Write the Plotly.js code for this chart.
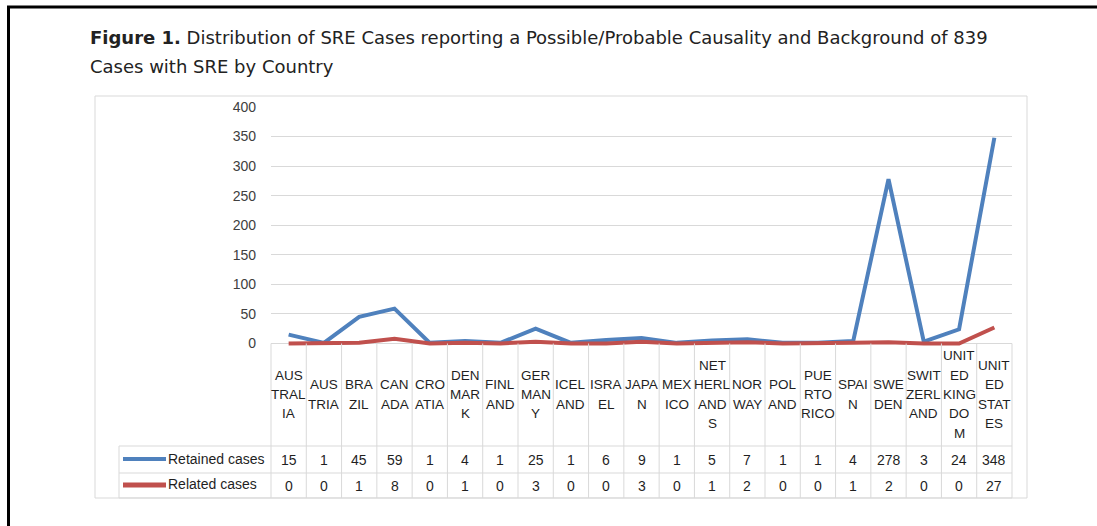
<!DOCTYPE html>
<html>
<head>
<meta charset="utf-8">
<script src="https://cdn.plot.ly/plotly-3.0.1.min.js"></script>
<style>
  html, body { margin: 0; padding: 0; background: #fff; }
  #chart { width: 1097px; height: 526px; }
</style>
</head>
<body>
<div id="chart"></div>
<script>
// ---- data ----
const countries = ["AUSTRALIA","AUSTRIA","BRAZIL","CANADA","CROATIA","DENMARK","FINLAND","GERMANY","ICELAND","ISRAEL","JAPAN","MEXICO","NETHERLANDS","NORWAY","POLAND","PUERTO RICO","SPAIN","SWEDEN","SWITZERLAND","UNITED KINGDOM","UNITED STATES"];
const headerLabels = [
  ["AUS","TRAL","IA"], ["AUS","TRIA"], ["BRA","ZIL"], ["CAN","ADA"], ["CRO","ATIA"],
  ["DEN","MAR","K"], ["FINL","AND"], ["GER","MAN","Y"], ["ICEL","AND"], ["ISRA","EL"],
  ["JAPA","N"], ["MEX","ICO"], ["NET","HERL","AND","S"], ["NOR","WAY"], ["POL","AND"],
  ["PUE","RTO","RICO"], ["SPAI","N"], ["SWE","DEN"], ["SWIT","ZERL","AND"],
  ["UNIT","ED","KING","DO","M"], ["UNIT","ED","STAT","ES"]
];
const retainedCases = [15,1,45,59,1,4,1,25,1,6,9,1,5,7,1,1,4,278,3,24,348];
const relatedCases  = [0,0,1,8,0,1,0,3,0,0,3,0,1,2,0,0,1,2,0,0,27];
const seriesNames = ["Retained cases", "Related cases"];
const seriesColors = ["#4F81BD", "#C0504D"];
const yTicks = [0,50,100,150,200,250,300,350,400];
const titleLine1 = "<b>Figure 1.</b> Distribution of SRE Cases reporting a Possible/Probable Causality and Background of 839";
const titleLine2 = "Cases with SRE by Country";

// ---- layout helpers (pixel -> paper) ----
const W = 1097, H = 526;
const M = {l: 271, r: 85, t: 107, b: 179};
const PW = W - M.l - M.r, PH = H - M.t - M.b;
const px = v => (v - M.l) / PW;
const py = v => (H - M.b - v) / PH;
const N = countries.length;
const gridC = "#d9d9d9";
const textC = "#1f1f1f";
const tFont = "Liberation Sans, Arial, sans-serif";

const traces = [
  {x: countries, y: retainedCases, name: seriesNames[0], type: "scatter", mode: "lines",
   line: {color: seriesColors[0], width: 4}, hoverinfo: "x+y"},
  {x: countries, y: relatedCases, name: seriesNames[1], type: "scatter", mode: "lines",
   line: {color: seriesColors[1], width: 4}, hoverinfo: "x+y"}
];

const shapes = [];
const annotations = [];
function hline(x0, x1, y, color, w) {
  shapes.push({type: "line", xref: "paper", yref: "paper", x0: px(x0), x1: px(x1), y0: py(y), y1: py(y), line: {color: color, width: w}});
}
function vline(x, y0, y1, color, w) {
  shapes.push({type: "line", xref: "paper", yref: "paper", x0: px(x), x1: px(x), y0: py(y0), y1: py(y1), line: {color: color, width: w}});
}
// page frame
hline(7, W, 7, "#000", 3);
vline(8.5, 6, H, "#000", 3);
// chart box
shapes.push({type: "rect", xref: "paper", yref: "paper", x0: px(95), x1: px(1027), y0: py(96), y1: py(498), line: {color: gridC, width: 1}});
// data table grid
const zeroPx = 343.5, headBot = 446, rowSep = 473, tabBot = 498, tabLeft = 119;
for (let i = 0; i <= N; i++) {
  shapes.push({type: "line", xref: "paper", yref: "paper", x0: i / N, x1: i / N, y0: py(zeroPx), y1: py(tabBot), line: {color: gridC, width: 1}});
}
hline(tabLeft, M.l + PW, headBot, gridC, 1);
hline(tabLeft, M.l + PW, rowSep, gridC, 1);
hline(tabLeft, M.l + PW, tabBot, gridC, 1);
vline(tabLeft, headBot, tabBot, gridC, 1);

// header labels
const headCenter = 394.5, lineGap = 19.4;
headerLabels.forEach((lines, i) => {
  lines.forEach((s, k) => {
    const yc = headCenter + (k - (lines.length - 1) / 2) * lineGap;
    annotations.push({xref: "x", yref: "paper", x: countries[i], y: py(yc), text: s, showarrow: false,
      xanchor: "center", yanchor: "middle", font: {family: tFont, size: 13.5, color: textC}});
  });
});
// value rows
const rowY = [459.5, 485.5];
[retainedCases, relatedCases].forEach((arr, r) => {
  arr.forEach((v, i) => {
    annotations.push({xref: "x", yref: "paper", x: countries[i], y: py(rowY[r]), text: String(v), showarrow: false,
      xanchor: "center", yanchor: "middle", font: {family: tFont, size: 14, color: textC}});
  });
  // legend key + name
  shapes.push({type: "line", xref: "paper", yref: "paper", x0: px(123), x1: px(166), y0: py(rowY[r] - 0.5), y1: py(rowY[r] - 0.5), line: {color: seriesColors[r], width: r === 0 ? 4 : 5}});
  annotations.push({xref: "paper", yref: "paper", x: px(166), y: py(rowY[r] - 1), text: seriesNames[r], showarrow: false,
    xanchor: "left", yanchor: "middle", font: {family: tFont, size: 14, color: textC}});
});
// title
annotations.push({xref: "paper", yref: "paper", x: px(88), y: py(38), text: titleLine1, showarrow: false,
  xanchor: "left", yanchor: "middle", font: {family: "DejaVu Sans, Verdana, sans-serif", size: 18, color: "#222"}});
annotations.push({xref: "paper", yref: "paper", x: px(88), y: py(67), text: titleLine2, showarrow: false,
  xanchor: "left", yanchor: "middle", font: {family: "DejaVu Sans, Verdana, sans-serif", size: 18, color: "#222"}});

const layout = {
  width: W, height: H,
  margin: M,
  paper_bgcolor: "#fff", plot_bgcolor: "#fff",
  showlegend: false,
  xaxis: {type: "category", categoryorder: "array", categoryarray: countries, range: [-0.5, N - 0.5],
    showticklabels: false, showgrid: false, zeroline: false, showline: false, ticks: "", fixedrange: true},
  yaxis: {range: [-6, 400], tickvals: yTicks, ticktext: yTicks.map(String), showgrid: true, gridcolor: gridC, gridwidth: 1,
    zeroline: false, showline: false, ticks: "", ticklabelstandoff: 14,
    tickfont: {family: tFont, size: 14, color: "#404040"}, fixedrange: true},
  shapes: shapes,
  annotations: annotations
};

Plotly.newPlot("chart", traces, layout, {displayModeBar: false, staticPlot: true});
</script>
</body>
</html>
